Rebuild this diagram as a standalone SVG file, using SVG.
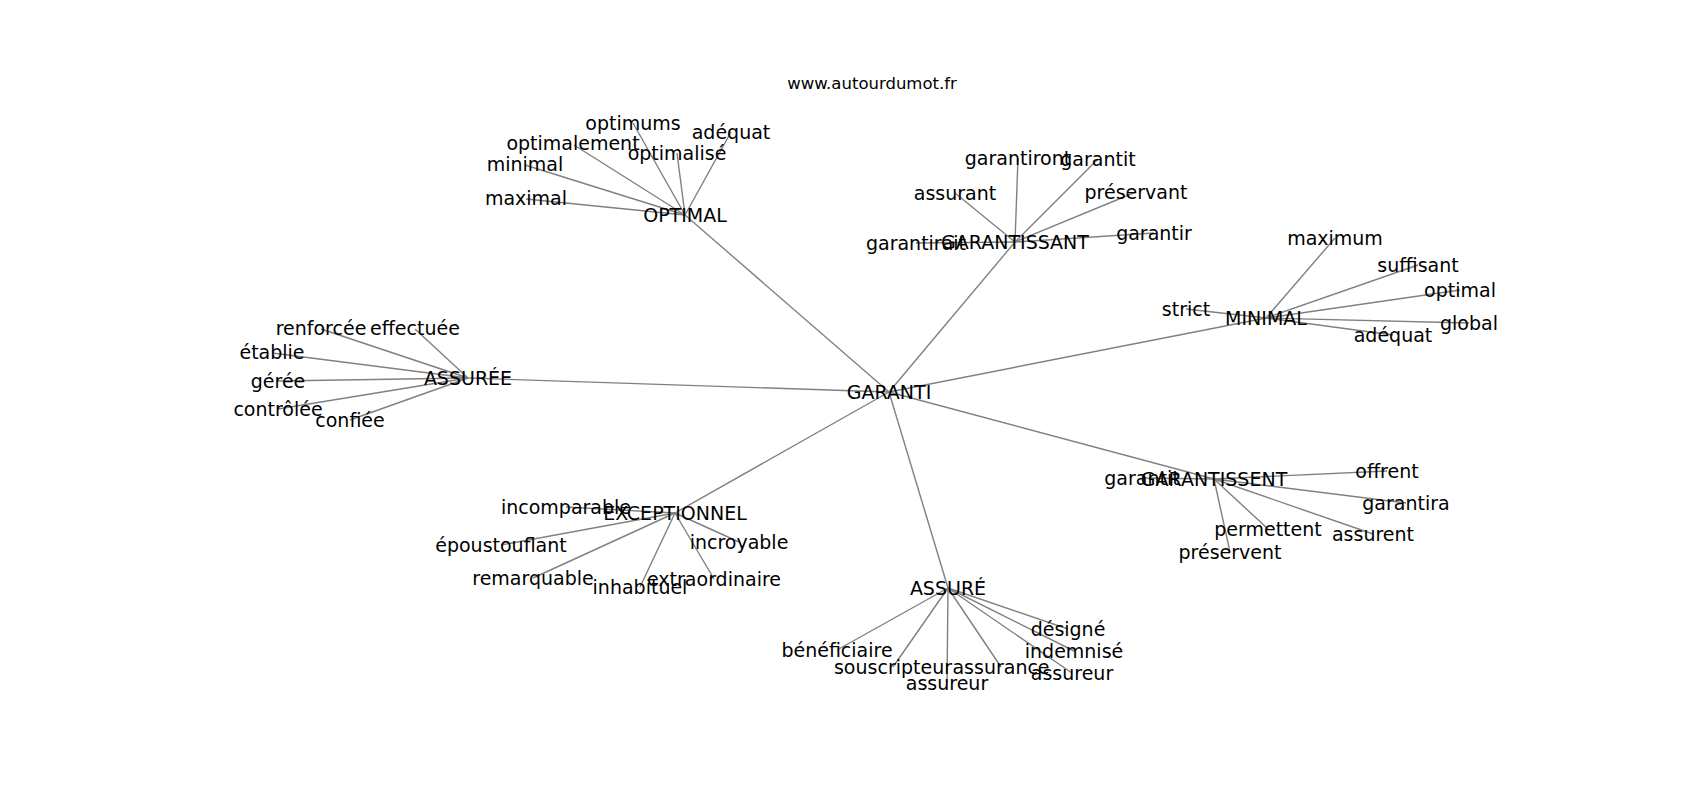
<svg xmlns="http://www.w3.org/2000/svg" width="1700" height="800" viewBox="0 0 1700 800">
<style>
.e{stroke:#808080;stroke-width:1.4;fill:none}
text{font-family:"DejaVu Sans",sans-serif;font-size:19px;fill:#000;text-anchor:middle;dominant-baseline:central}
.t{font-size:16.5px}
</style>
<rect width="1700" height="800" fill="#fff"/>
<text class="t" x="872" y="83">www.autourdumot.fr</text>
<g id="edges" class="e">
<line x1="889" y1="392" x2="685" y2="215"/>
<line x1="889" y1="392" x2="1015" y2="242"/>
<line x1="889" y1="392" x2="1266" y2="318"/>
<line x1="889" y1="392" x2="468" y2="378"/>
<line x1="889" y1="392" x2="675" y2="513"/>
<line x1="889" y1="392" x2="948" y2="588"/>
<line x1="889" y1="392" x2="1214" y2="479"/>
<line x1="685" y1="215" x2="633" y2="123"/>
<line x1="685" y1="215" x2="731" y2="132"/>
<line x1="685" y1="215" x2="574" y2="145"/>
<line x1="685" y1="215" x2="677" y2="153"/>
<line x1="685" y1="215" x2="525" y2="165"/>
<line x1="685" y1="215" x2="526" y2="199"/>
<line x1="1015" y1="242" x2="1018" y2="158"/>
<line x1="1015" y1="242" x2="1098" y2="159"/>
<line x1="1015" y1="242" x2="955" y2="193"/>
<line x1="1015" y1="242" x2="1136" y2="192"/>
<line x1="1015" y1="242" x2="1154" y2="233"/>
<line x1="1015" y1="242" x2="916" y2="243"/>
<line x1="1266" y1="318" x2="1335" y2="238"/>
<line x1="1266" y1="318" x2="1418" y2="265"/>
<line x1="1266" y1="318" x2="1460" y2="290"/>
<line x1="1266" y1="318" x2="1186" y2="309"/>
<line x1="1266" y1="318" x2="1469" y2="323"/>
<line x1="1266" y1="318" x2="1393" y2="335"/>
<line x1="468" y1="378" x2="321" y2="329"/>
<line x1="468" y1="378" x2="415" y2="329"/>
<line x1="468" y1="378" x2="272" y2="353"/>
<line x1="468" y1="378" x2="278" y2="381"/>
<line x1="468" y1="378" x2="278" y2="409"/>
<line x1="468" y1="378" x2="350" y2="420"/>
<line x1="675" y1="513" x2="566" y2="507"/>
<line x1="675" y1="513" x2="501" y2="545"/>
<line x1="675" y1="513" x2="739" y2="542"/>
<line x1="675" y1="513" x2="533" y2="578"/>
<line x1="675" y1="513" x2="640" y2="587"/>
<line x1="675" y1="513" x2="714" y2="579"/>
<line x1="948" y1="588" x2="1068" y2="629"/>
<line x1="948" y1="588" x2="837" y2="650"/>
<line x1="948" y1="588" x2="1074" y2="651"/>
<line x1="948" y1="588" x2="893" y2="667"/>
<line x1="948" y1="588" x2="1001" y2="667"/>
<line x1="948" y1="588" x2="947" y2="683"/>
<line x1="948" y1="588" x2="1072" y2="673"/>
<line x1="1214" y1="479" x2="1142" y2="478"/>
<line x1="1214" y1="479" x2="1387" y2="471"/>
<line x1="1214" y1="479" x2="1406" y2="503"/>
<line x1="1214" y1="479" x2="1268" y2="529"/>
<line x1="1214" y1="479" x2="1373" y2="534"/>
<line x1="1214" y1="479" x2="1230" y2="552"/>
</g>
<g id="n-garanti"><text x="889" y="392">GARANTI</text></g>
<g id="n-optimal"><text x="685" y="215">OPTIMAL</text>
<text x="633" y="123">optimums</text><text x="731" y="132">adéquat</text><text x="573" y="143">optimalement</text><text x="677" y="153">optimalisé</text><text x="525" y="164">minimal</text><text x="526" y="198">maximal</text></g>
<g id="n-garantissant"><text x="1015" y="242">GARANTISSANT</text>
<text x="1018" y="158">garantiront</text><text x="1098" y="159">garantit</text><text x="955" y="193">assurant</text><text x="1136" y="192">préservant</text><text x="1154" y="233">garantir</text><text x="916" y="243">garantirait</text></g>
<g id="n-minimal"><text x="1266" y="318">MINIMAL</text>
<text x="1335" y="238">maximum</text><text x="1418" y="265">suffisant</text><text x="1460" y="290">optimal</text><text x="1186" y="309">strict</text><text x="1469" y="323">global</text><text x="1393" y="335">adéquat</text></g>
<g id="n-assuree"><text x="468" y="378">ASSURÉE</text>
<text x="321" y="328">renforcée</text><text x="415" y="328">effectuée</text><text x="272" y="352">établie</text><text x="278" y="381">gérée</text><text x="278" y="409">contrôlée</text><text x="350" y="420">confiée</text></g>
<g id="n-exceptionnel"><text x="675" y="513">EXCEPTIONNEL</text>
<text x="566" y="507">incomparable</text><text x="501" y="545">époustouflant</text><text x="739" y="542">incroyable</text><text x="533" y="578">remarquable</text><text x="640" y="587">inhabituel</text><text x="714" y="579">extraordinaire</text></g>
<g id="n-assure"><text x="948" y="588">ASSURÉ</text>
<text x="1068" y="629">désigné</text><text x="837" y="650">bénéficiaire</text><text x="1074" y="651">indemnisé</text><text x="893" y="667">souscripteur</text><text x="1001" y="667">assurance</text><text x="947" y="683">assureur</text><text x="1072" y="673">assureur</text></g>
<g id="n-garantissent"><text x="1214" y="479">GARANTISSENT</text>
<text x="1142" y="478">garantit</text><text x="1387" y="471">offrent</text><text x="1406" y="503">garantira</text><text x="1268" y="529">permettent</text><text x="1373" y="534">assurent</text><text x="1230" y="552">préservent</text></g>
</svg>
